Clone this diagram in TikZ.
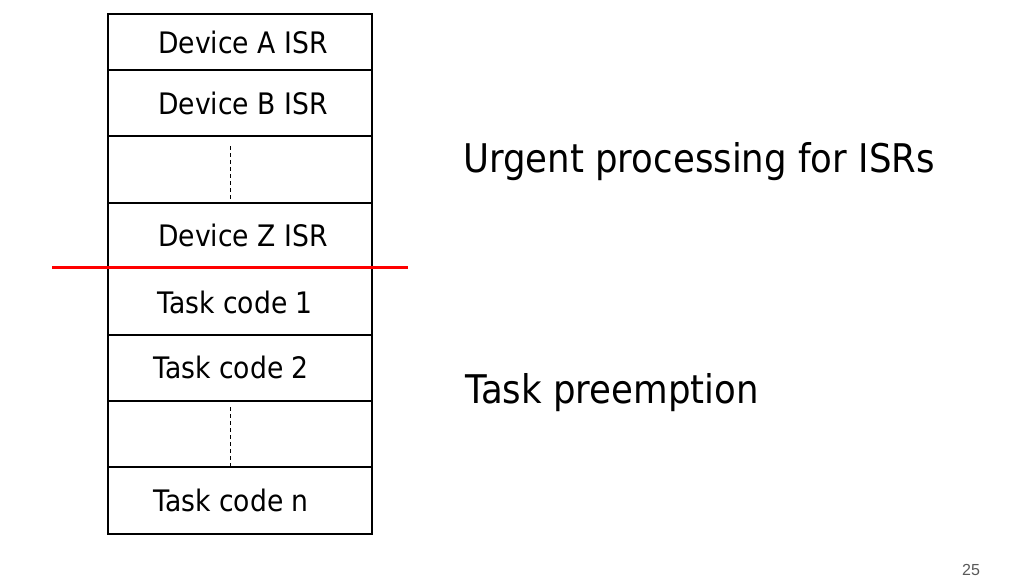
\documentclass[tikz,border=0pt]{standalone}
\usepackage{fontspec}
\newfontfamily\tahfont[FakeStretch=0.9]{DejaVu Sans}
\newfontfamily\numfont{Liberation Sans}
\begin{document}
\begin{tikzpicture}[x=1pt,y=-1pt,
  cell/.style={draw=black,line width=1.4pt,minimum width=264pt,inner sep=0pt,outer sep=0pt,anchor=north west},
  boxtext/.style={anchor=base west,inner sep=0pt,font=\tahfont\fontsize{29.6}{31}\selectfont},
  bigtext/.style={anchor=base west,inner sep=0pt,font=\tahfont\fontsize{39.5}{42}\selectfont},
  dots/.style={draw=black,line width=0.9pt,dash pattern=on 4pt off 3pt}]
\useasboundingbox (0,0) rectangle (1022,583);
\fill[white] (0,0) rectangle (1022,583);
% cells
\node[cell,minimum height=56pt] (c1) at (108,14) {};
\node[cell,minimum height=66pt] (c2) at (108,70) {};
\node[cell,minimum height=67pt] (c3) at (108,136) {};
\node[cell,minimum height=65pt] (c4) at (108,203) {};
\node[cell,minimum height=67pt] (c5) at (108,268) {};
\node[cell,minimum height=66pt] (c6) at (108,335) {};
\node[cell,minimum height=66pt] (c7) at (108,401) {};
\node[cell,minimum height=67pt] (c8) at (108,467) {};
% labels
\node[boxtext] (t1) at (158,53.3) {Device A ISR};
\node[boxtext] (t2) at (158,115) {Device B ISR};
\node[boxtext] (t4) at (158,246.7) {Device Z ISR};
\node[boxtext] (t5) at (157,313.3) {Task code 1};
\node[boxtext] (t6) at (153,378.3) {Task code 2};
\node[boxtext] (t8) at (153,511.7) {Task code n};
% dashed continuation marks
\coordinate (d1a) at (230.7,146);
\coordinate (d2a) at (230.7,407);
\draw[dots] (d1a) -- (d1a |- c3.south);
\draw[dots] (d2a) -- (d2a |- c7.south);
% red divider
\coordinate (r1) at (52,267);
\coordinate (r2) at (408,267);
\draw[red,line width=3pt] (r1) -- (r2);
% right-hand labels
\node[bigtext] (u) at (463,172) {Urgent processing for ISRs};
\node[bigtext] (p) at (465,403) {Task preemption};
\node[anchor=base west,inner sep=0pt,text=black!65,font=\numfont\fontsize{16}{18}\selectfont] (pg) at (962,575) {25};
\end{tikzpicture}
\end{document}
